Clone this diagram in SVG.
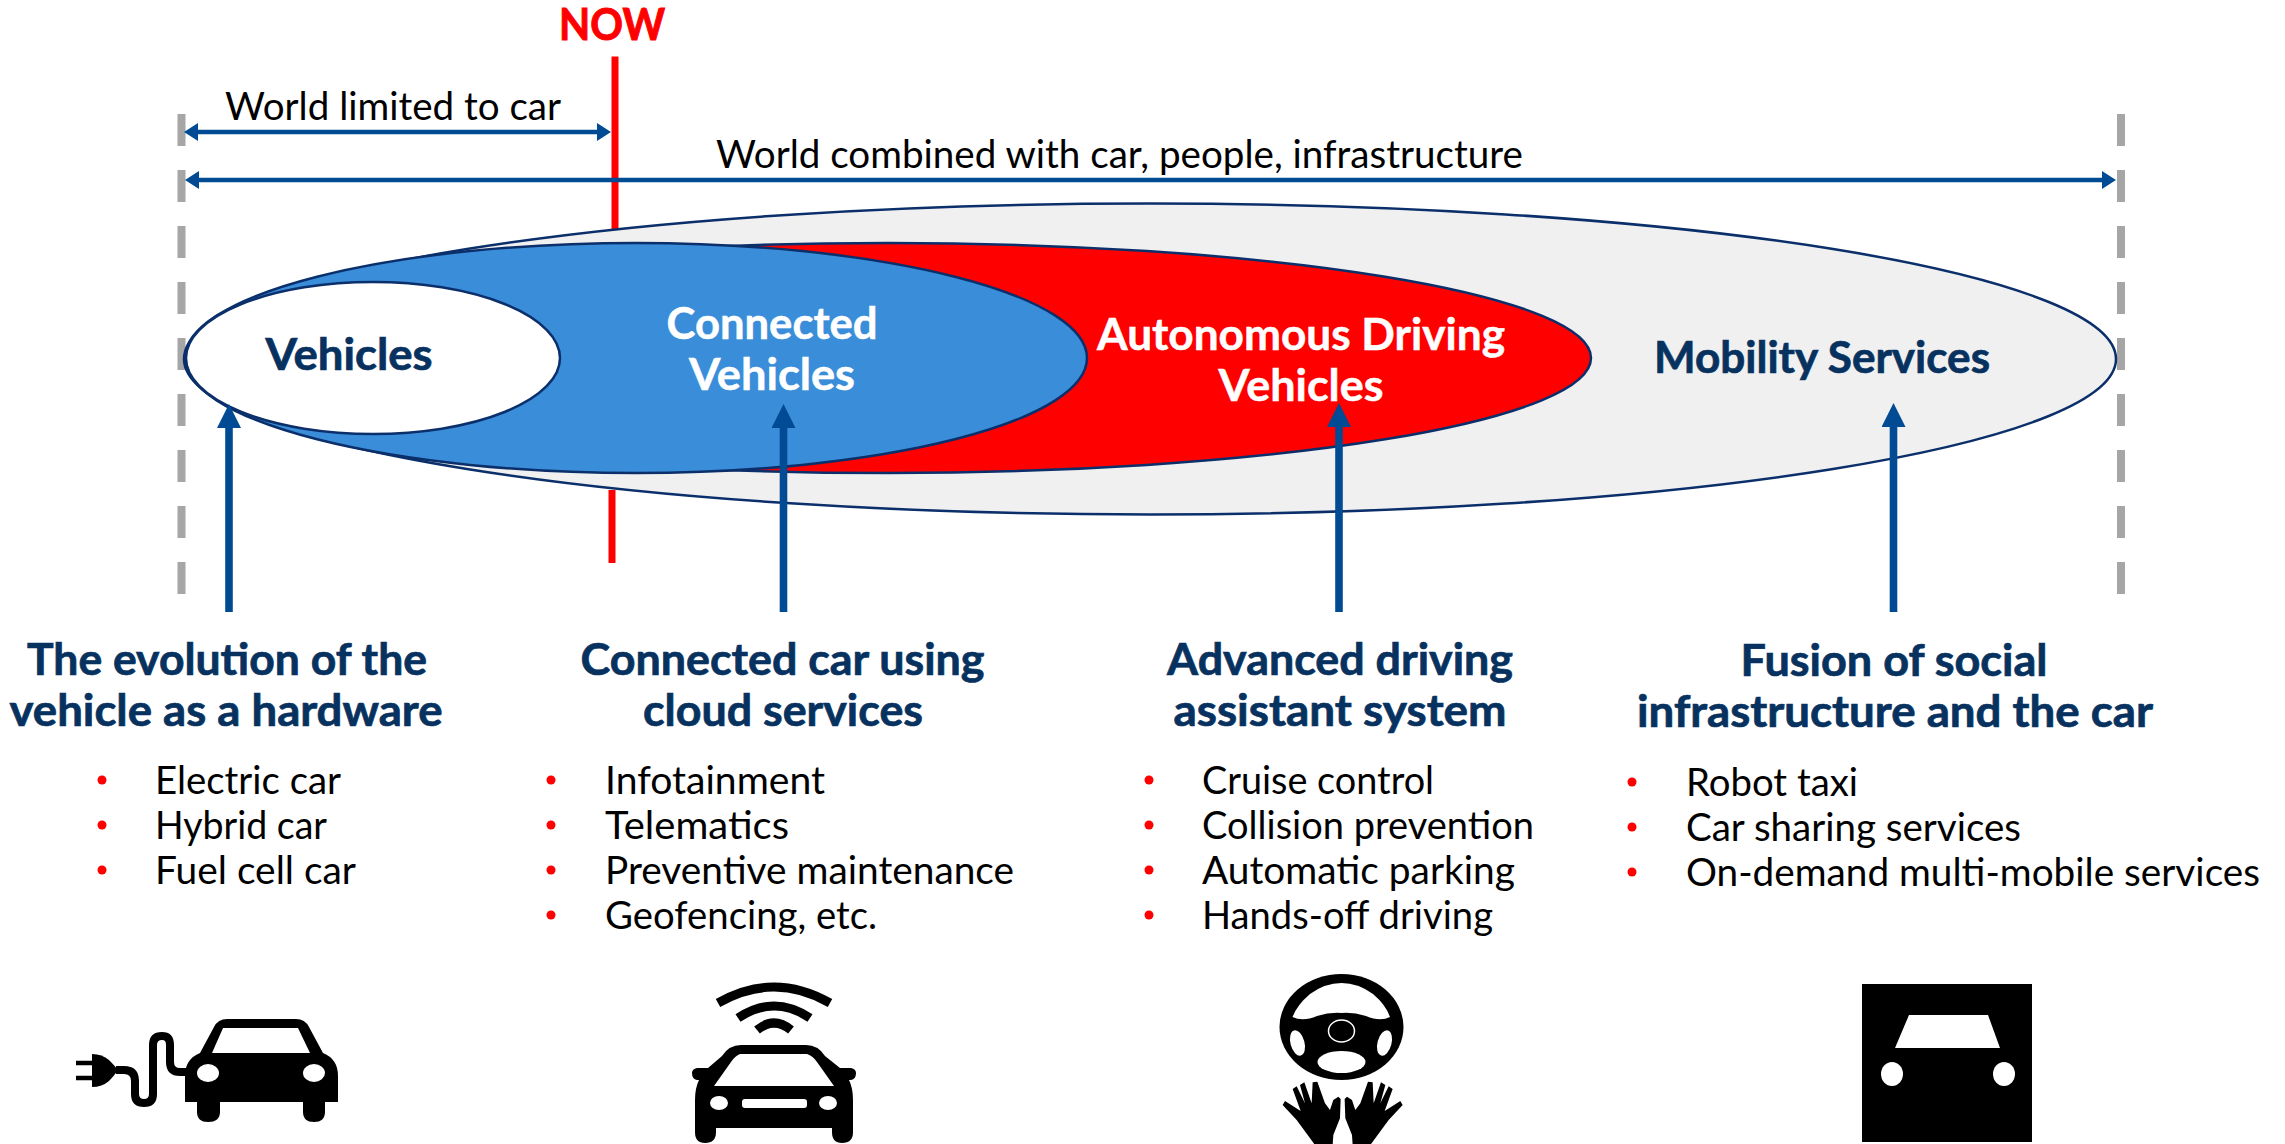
<svg xmlns="http://www.w3.org/2000/svg" width="2285" height="1144" viewBox="0 0 2285 1144">
<style>
text{font-family:"Lato","Open Sans","Liberation Sans",sans-serif;}
.lead{font-size:38px;fill:#000;}
.head{font-size:43px;font-weight:700;fill:#07325f;stroke:#07325f;stroke-width:.7px;text-anchor:middle;}
.lab{font-size:43px;font-weight:700;text-anchor:middle;}
.dark{fill:#07325f;stroke:#07325f;stroke-width:.7px;}
.wh{fill:#fff;stroke:#fff;stroke-width:.5px;}
.nowt{font-size:43px;font-weight:700;fill:#f00;stroke:#f00;stroke-width:1px;text-anchor:middle;}
.item{font-size:38px;fill:#000;}
.bul{fill:#f00;}
.dash{stroke:#a6a6a6;stroke-width:8;stroke-dasharray:32 24;fill:none;}
.now{stroke:#f00;stroke-width:7;fill:none;}
.dim{stroke:#004b93;stroke-width:4.5;fill:none;marker-start:url(#hl);marker-end:url(#hr);}
.up{stroke:#004b93;stroke-width:7.6;fill:none;marker-end:url(#hu);}
.ell{stroke:#0b2f6b;stroke-width:2.5;}
.ink{fill:#000;}
.gap{fill:#fff;}
.line{stroke:#000;fill:none;}
</style>
<defs>
<marker id="hr" markerUnits="userSpaceOnUse" markerWidth="16" markerHeight="18" refX="4" refY="9" orient="auto"><path d="M0 0L14 9L0 18Z" fill="#004b93"/></marker>
<marker id="hl" markerUnits="userSpaceOnUse" markerWidth="16" markerHeight="18" refX="12" refY="9" orient="auto"><path d="M16 0L2 9L16 18Z" fill="#004b93"/></marker>
<marker id="hu" markerUnits="userSpaceOnUse" markerWidth="25" markerHeight="24" refX="4" refY="12" orient="auto"><path d="M0 0L24 12L0 24Z" fill="#004b93"/></marker>
<filter id="soft" x="-5%" y="-5%" width="110%" height="110%"><feGaussianBlur stdDeviation="0.6"/></filter>
<path id="hand" d="M135 210L80 135L38 90L45 78L92 108L68 42L80 34L105 85L90 30L103 22L125 85L128 22L142 20L165 85L180 105L190 75L205 65L212 72L210 130L190 180L188 210Z"/>
</defs>

<g id="now-line">
<text class="nowt" x="612" y="40" textLength="106" lengthAdjust="spacingAndGlyphs">NOW</text>
<path class="now" d="M615 56.500V235M612 490V563"/>
</g>
<g id="boundaries">
<path class="dash" d="M181.500 114V595"/>
<path class="dash" d="M2121 114V595"/>
</g>
<g id="mobility-services">
<ellipse class="ell" cx="1150" cy="359" rx="966" ry="155.500" fill="#f0f0f0"/>
<text class="lab dark" x="1822" y="373" textLength="336" lengthAdjust="spacingAndGlyphs">Mobility Services</text>
</g>
<g id="autonomous-vehicles">
<ellipse class="ell" cx="888" cy="358" rx="703" ry="115" fill="#f00"/>
<text class="lab wh" x="1301" y="349.500" textLength="408" lengthAdjust="spacingAndGlyphs">Autonomous Driving</text>
<text class="lab wh" x="1301" y="400.500" textLength="165" lengthAdjust="spacingAndGlyphs">Vehicles</text>
</g>
<g id="connected-vehicles">
<ellipse class="ell" cx="636" cy="358" rx="451" ry="115" fill="#3a8dd8"/>
<text class="lab wh" x="772" y="338.500" textLength="211" lengthAdjust="spacingAndGlyphs">Connected</text>
<text class="lab wh" x="772" y="389.500" textLength="166" lengthAdjust="spacingAndGlyphs">Vehicles</text>
</g>
<g id="vehicles">
<ellipse class="ell" cx="373" cy="358" rx="187" ry="76" fill="#fff"/>
<text class="lab dark" x="349" y="369.500" textLength="167" lengthAdjust="spacingAndGlyphs">Vehicles</text>
</g>

<g id="connectors">
<path class="dim" d="M194 132H601"/>
<path class="dim" d="M195 180H2106"/>
<path class="up" d="M229 612V424"/>
<path class="up" d="M783.500 612V424"/>
<path class="up" d="M1339 612V423"/>
<path class="up" d="M1893.500 612V423"/>
</g>

<g id="scope-labels">
<text class="lead" x="225" y="120" textLength="336" lengthAdjust="spacingAndGlyphs">World limited to car</text>
<text class="lead" x="716" y="168" textLength="807" lengthAdjust="spacingAndGlyphs">World combined with car, people, infrastructure</text>
</g>

<g id="column-hardware">
<text class="head" x="227" y="674.500" textLength="400" lengthAdjust="spacingAndGlyphs">The evolution of the</text>
<text class="head" x="226" y="725.500" textLength="433" lengthAdjust="spacingAndGlyphs">vehicle as a hardware</text>
<circle class="bul" cx="102" cy="780" r="4.500"/><text class="item" x="155" y="793.500" textLength="186" lengthAdjust="spacingAndGlyphs">Electric car</text>
<circle class="bul" cx="102" cy="825" r="4.500"/><text class="item" x="155" y="838.500" textLength="172" lengthAdjust="spacingAndGlyphs">Hybrid car</text>
<circle class="bul" cx="102" cy="870" r="4.500"/><text class="item" x="155" y="883.500" textLength="201" lengthAdjust="spacingAndGlyphs">Fuel cell car</text>
</g>
<g id="column-connected">
<text class="head" x="782.500" y="674.500" textLength="404" lengthAdjust="spacingAndGlyphs">Connected car using</text>
<text class="head" x="783" y="725.500" textLength="280" lengthAdjust="spacingAndGlyphs">cloud services</text>
<circle class="bul" cx="551" cy="780" r="4.500"/><text class="item" x="605" y="793.500" textLength="220" lengthAdjust="spacingAndGlyphs">Infotainment</text>
<circle class="bul" cx="551" cy="825" r="4.500"/><text class="item" x="605" y="838.500" textLength="184" lengthAdjust="spacingAndGlyphs">Telematics</text>
<circle class="bul" cx="551" cy="870" r="4.500"/><text class="item" x="605" y="883.500" textLength="409" lengthAdjust="spacingAndGlyphs">Preventive maintenance</text>
<circle class="bul" cx="551" cy="915" r="4.500"/><text class="item" x="605" y="928.500" textLength="272" lengthAdjust="spacingAndGlyphs">Geofencing, etc.</text>
</g>
<g id="column-adas">
<text class="head" x="1340" y="674.500" textLength="346" lengthAdjust="spacingAndGlyphs">Advanced driving</text>
<text class="head" x="1340" y="725.500" textLength="333" lengthAdjust="spacingAndGlyphs">assistant system</text>
<circle class="bul" cx="1149" cy="780" r="4.500"/><text class="item" x="1202" y="793.500" textLength="232" lengthAdjust="spacingAndGlyphs">Cruise control</text>
<circle class="bul" cx="1149" cy="825" r="4.500"/><text class="item" x="1202" y="838.500" textLength="332" lengthAdjust="spacingAndGlyphs">Collision prevention</text>
<circle class="bul" cx="1149" cy="870" r="4.500"/><text class="item" x="1202" y="883.500" textLength="313" lengthAdjust="spacingAndGlyphs">Automatic parking</text>
<circle class="bul" cx="1149" cy="915" r="4.500"/><text class="item" x="1202" y="928.500" textLength="291" lengthAdjust="spacingAndGlyphs">Hands-off driving</text>
</g>
<g id="column-social">
<text class="head" x="1894" y="676" textLength="307" lengthAdjust="spacingAndGlyphs">Fusion of social</text>
<text class="head" x="1895" y="727" textLength="516" lengthAdjust="spacingAndGlyphs">infrastructure and the car</text>
<circle class="bul" cx="1632" cy="782" r="4.500"/><text class="item" x="1686" y="795.500" textLength="172" lengthAdjust="spacingAndGlyphs">Robot taxi</text>
<circle class="bul" cx="1632" cy="827" r="4.500"/><text class="item" x="1686" y="840.500" textLength="335" lengthAdjust="spacingAndGlyphs">Car sharing services</text>
<circle class="bul" cx="1632" cy="872" r="4.500"/><text class="item" x="1686" y="885.500" textLength="574" lengthAdjust="spacingAndGlyphs">On-demand multi-mobile services</text>
</g>

<g id="icon-electric-car" filter="url(#soft)">
<path class="ink" d="M185 1102V1076Q185 1059 200 1053L214 1027Q218 1019 227 1019H296Q305 1019 309 1027L323 1053Q338 1059 338 1076V1102H325V1112Q325 1122 314 1122Q303 1122 303 1112V1102H220V1112Q220 1122 208 1122Q197 1122 197 1112V1102Z"/>
<path class="gap" d="M223 1028H298L310 1053H212Z"/>
<ellipse class="gap" cx="208" cy="1073" rx="11" ry="9"/>
<ellipse class="gap" cx="314" cy="1073" rx="11" ry="9"/>
<path class="ink" d="M92 1054Q102 1054 109 1060Q114 1065 118 1070Q114 1076 109 1081Q102 1087 92 1087Z"/>
<path class="line" stroke-width="4.500" d="M76 1063H94M76 1078H94"/>
<path class="line" stroke-width="8" d="M116 1070H124Q135 1070 135 1081V1094Q135 1103 144 1103Q153 1103 153 1094V1045Q153 1036 162 1036Q170 1036 170 1045V1062Q170 1072 180 1072H187"/>
</g>
<g id="icon-connected-car" filter="url(#soft)">
<path class="line" stroke-width="9" d="M718 1003Q774 971 830 1003M738 1018Q774 994 810 1018M757 1030Q774 1016 791 1030"/>
<path class="ink" d="M695 1128V1100Q695 1088 699 1080H697Q692 1079 692 1073Q692 1069 697 1068H708L722 1056Q729 1045 741 1045H806Q818 1045 825 1056L840 1068H851Q856 1069 856 1073Q856 1079 851 1080H849Q853 1088 853 1100V1132Q853 1143 842 1143Q832 1143 832 1132V1128H716V1132Q716 1143 705 1143Q695 1143 695 1132Z"/>
<path class="gap" d="M740 1054H807Q813 1056 817 1062L834 1086H714L731 1062Q735 1056 740 1054Z"/>
<ellipse class="gap" cx="719" cy="1103" rx="9" ry="7"/>
<ellipse class="gap" cx="828" cy="1103" rx="9" ry="7"/>
<rect class="gap" x="742" y="1099" width="65" height="9" rx="3"/>
</g>
<g id="icon-steering" filter="url(#soft)">
<ellipse class="ink" cx="1341.500" cy="1027" rx="62" ry="53"/>
<path class="gap" d="M1292.500 1017Q1297 1005 1310 994Q1325 983 1341.500 983Q1358 983 1373 994Q1386 1005 1390 1017Q1380 1022 1366 1016Q1353 1012 1341.500 1013Q1330 1012 1317 1016Q1303 1022 1292.500 1017Z"/>
<ellipse cx="1341.500" cy="1031" rx="13" ry="11" fill="none" stroke="#fff" stroke-width="1.500"/>
<ellipse class="gap" cx="1297.500" cy="1043" rx="7" ry="13" transform="rotate(-15 1297.500 1043)"/>
<ellipse class="gap" cx="1384.500" cy="1043" rx="7" ry="13" transform="rotate(15 1384.500 1043)"/>
<ellipse class="gap" cx="1341.500" cy="1062" rx="24" ry="11"/>
<use href="#hand" class="ink" transform="translate(1270 1075) scale(.3333)"/>
<use href="#hand" class="ink" transform="translate(1270 1075) scale(.3333) translate(436 0) scale(-1 1)"/>
</g>
<g id="icon-mobility" filter="url(#soft)">
<rect class="ink" x="1862" y="984" width="170" height="158"/>
<path class="gap" d="M1909 1015H1988L2000 1048H1895Z"/>
<ellipse class="gap" cx="1892" cy="1074" rx="11" ry="12"/>
<ellipse class="gap" cx="2004" cy="1074" rx="11" ry="12"/>
</g>
</svg>
